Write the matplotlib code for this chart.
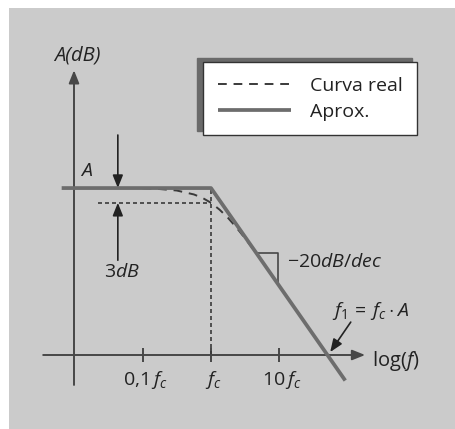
import matplotlib
matplotlib.use("Agg")
import matplotlib.pyplot as plt
from matplotlib.patches import Rectangle

plt.rcParams['font.family'] = ['Open Sans', 'DejaVu Sans']
plt.rcParams['mathtext.fontset'] = 'custom'
plt.rcParams['mathtext.rm'] = 'Open Sans'
plt.rcParams['mathtext.it'] = 'Open Sans:italic'
plt.rcParams['mathtext.bf'] = 'Open Sans:bold'

# ---- data (x = log10(f / fc), y = gain in dB) ----
gain_db = 34.0            # A, passband gain
slope_db_dec = -20.0      # roll-off of the asymptote
drop_db = 3.0             # real curve at fc is 3 dB below A
f1_dec = 1.7              # crossing of the asymptote with 0 dB

asym_x = [-2.18, 0.0, 1.96]
asym_y = [gain_db, gain_db, gain_db + slope_db_dec * 1.96]

real_x = [-1.0, -0.75, -0.5, -0.375, -0.25, -0.125, 0.0, 0.125, 0.25, 0.375, 0.5, 0.625]
real_y = [33.95, 33.8, 33.5, 33.1, 32.7, 32.0, 31.0, 29.6, 27.9, 25.9, 23.7, 21.4]

tick_pos = [-1, 0, 1]
tick_labels = [r'$0{,}1\,f_c$', r'$f_c$', r'$10\,f_c$']

legend_labels = ['Curva real', 'Aprox.']

# ---- layout scale ----
W, H = 456, 429
PX_DEC = 68.5     # pixels per decade
PX_DB = 4.91      # pixels per dB
X0_PX, Y0_PX = 211, 355   # position of (fc, 0 dB)

AX_COL = '#474747'
LINE_COL = '#6d6d6d'
DASH_COL = '#3a3a3a'
TXT_COL = '#222222'
FS = 14

fig = plt.figure(figsize=(W / 100, H / 100), dpi=100)
fig.patch.set_facecolor('white')
fig.patches.append(Rectangle((9 / W, 0), 1 - 9 / W, 1 - 8 / H,
                             transform=fig.transFigure, facecolor='#cbcbcb',
                             edgecolor='none', zorder=-5))

ax = fig.add_axes([0, 0, 1, 1])
ax.set_xlim(-X0_PX / PX_DEC, (W - X0_PX) / PX_DEC)
ax.set_ylim(-(H - Y0_PX) / PX_DB, Y0_PX / PX_DB)
ax.axis('off')
ax.patch.set_visible(False)

arrow_kw = dict(arrowstyle='-|>,head_length=0.55,head_width=0.22', color=AX_COL,
                lw=1.4, shrinkA=0, shrinkB=0, mutation_scale=14)

# axes with arrowheads
y_axis_x = -2.0
ax.annotate('', xy=(y_axis_x, 58.0), xytext=(y_axis_x, -6.1), arrowprops=arrow_kw)
ax.annotate('', xy=(2.25, 0), xytext=(-2.45, 0), arrowprops=arrow_kw)
for t in tick_pos:
    ax.plot([t, t], [-1.5, 1.5], color=AX_COL, lw=1.4, solid_capstyle='butt')
for t, lab in zip(tick_pos, tick_labels):
    ax.text(t + 0.04, -5.0, lab, ha='center', va='center', fontsize=FS, color=TXT_COL)

# reference lines at fc and A - 3 dB
ax.plot([0, 0], [0, gain_db], color=DASH_COL, lw=1.2, dashes=(2.4, 1.8))
ax.plot([-1.65, 0], [gain_db - drop_db] * 2, color=DASH_COL, lw=1.2, dashes=(2.4, 1.8))

# curves
real_line, = ax.plot(real_x, real_y, color=DASH_COL, lw=1.4, dashes=(4.5, 3.5),
                     label=legend_labels[0], zorder=3)
asym_line, = ax.plot(asym_x, asym_y, color=LINE_COL, lw=2.7,
                     label=legend_labels[1], solid_capstyle='butt', zorder=4)

# slope marker
sx0, sx1 = 0.66, 0.98
sy0 = gain_db + slope_db_dec * sx0
sy1 = gain_db + slope_db_dec * sx1
ax.plot([sx0, sx1, sx1], [sy0, sy0, sy1], color=AX_COL, lw=1.2)
ax.text(1.11, 19.0, r'$-20dB/dec$', ha='left', va='center', fontsize=FS, color=TXT_COL)

# 3 dB arrows
ax_arrow = dict(arrowstyle='-|>,head_length=0.55,head_width=0.22', color=TXT_COL,
                lw=1.2, shrinkA=0, shrinkB=0, mutation_scale=14)
ax.annotate('', xy=(-1.36, gain_db), xytext=(-1.36, 44.8), arrowprops=ax_arrow)
ax.annotate('', xy=(-1.36, gain_db - drop_db), xytext=(-1.36, 19.3), arrowprops=ax_arrow)
ax.text(-1.30, 17.0, r'$3dB$', ha='center', va='center', fontsize=FS, color=TXT_COL)

# labels
ax.text(-1.956, 60.9, 'A(dB)', ha='center', va='center', fontsize=FS + 0.5,
        fontstyle='italic', color=TXT_COL)
ax.text(-1.82, 37.5, 'A', ha='center', va='center', fontsize=FS,
        fontstyle='italic', color=TXT_COL)
ax.text(2.35, -1.3, r'log($f$)', ha='left', va='center', fontsize=FS + 0.5, color=TXT_COL)

# f1 annotation
ax.annotate('', xy=(f1_dec + 0.04, 0.6), xytext=(2.04, 6.7), arrowprops=ax_arrow)
ax.text(1.77, 9.0, r'$f_1\,=\,f_c\cdot A$', ha='left', va='center', fontsize=FS,
        color=TXT_COL)

leg = ax.legend(handles=[real_line, asym_line], loc='upper left',
                bbox_to_anchor=(203 / W, 1 - 62 / H), borderaxespad=0,
                frameon=True, fancybox=False, framealpha=1, facecolor='white',
                edgecolor='#333333', fontsize=FS, handlelength=3.75,
                handletextpad=1.0, borderpad=0.75, labelspacing=0.42,
                shadow={'ox': -4.0, 'oy': 3, 'color': '#6a6a6a', 'alpha': 1})
leg.get_frame().set_linewidth(1.0)
for t in leg.get_texts():
    t.set_color(TXT_COL)

fig.savefig('out.png', dpi=100, facecolor=fig.get_facecolor())
